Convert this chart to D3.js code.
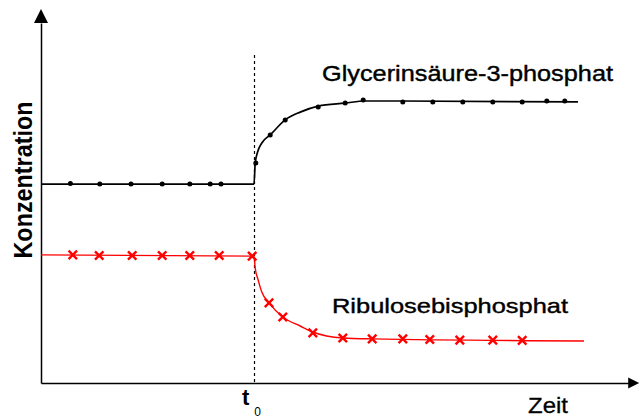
<!DOCTYPE html>
<html>
<head>
<meta charset="utf-8">
<script src="https://cdn.jsdelivr.net/npm/d3@7"></script>
<style>
  html, body { margin: 0; padding: 0; background: #fff; }
  svg { display: block; }
  text { font-family: "Liberation Sans", Arial, sans-serif; }
</style>
</head>
<body>
<svg id="chart" width="640" height="418"></svg>
<script>
// ---- data (time in arbitrary units, concentration in arbitrary units) ----
const t0 = 35.5;
const gpaTime = [0, 35.5, 35.7, 36.1, 36.8, 38.2, 40.7, 43.2, 46.2, 50.7, 54.0, 60.0, 89.5];
const gpaConc = [66.3, 66.3, 73.3, 77.0, 80.0, 82.7, 87.7, 90.3, 92.3, 93.3, 94.0, 94.0, 93.7];
const gpaMarkTime = [4.9, 9.8, 15.0, 20.2, 24.8, 28.2, 30.0, 35.8, 38.2, 40.7, 46.2, 50.7, 53.7, 60.3, 65.3, 70.3, 75.3, 80.2, 84.3, 87.3];
const gpaMarkConc = [66.5, 66.3, 66.3, 66.3, 66.3, 66.3, 66.3, 73.3, 82.7, 87.7, 92.0, 93.3, 94.3, 93.7, 93.7, 93.7, 93.7, 93.7, 94.0, 94.0];

const rubTime = [0, 35.5, 35.7, 36.2, 36.8, 38.0, 40.3, 43.2, 45.3, 50.3, 55.3, 90.5];
const rubConc = [42.7, 42.3, 38.3, 34.3, 30.3, 26.7, 22.0, 19.0, 17.0, 15.0, 14.7, 14.0];
const rubMarkTime = [5.3, 9.7, 15.2, 20.2, 24.8, 29.7, 35.2, 38.0, 40.3, 45.3, 50.3, 55.2, 60.3, 64.8, 69.8, 75.3, 80.2];
const rubMarkConc = [42.7, 42.5, 42.5, 42.5, 42.5, 42.5, 42.3, 26.7, 22.0, 16.7, 15.0, 14.7, 14.7, 14.5, 14.3, 14.3, 14.2];

const labels = {
  gpa: "Glycerinsäure-3-phosphat",
  rub: "Ribulosebisphosphat",
  yAxis: "Konzentration",
  xAxis: "Zeit",
  t: "t",
  tSub: "0"
};

// ---- scales ----
const x = d3.scaleLinear().domain([0, 100]).range([41, 641]);
const y = d3.scaleLinear().domain([0, 100]).range([383, 83]);

const svg = d3.select("#chart");

// axes (no ticks)
const xAxisScale = d3.scaleLinear().domain([0, 98.2]).range([x(0), x(98.2)]);
const yAxisScale = d3.scaleLinear().domain([0, 120]).range([y(0), y(120)]);
svg.append("g")
  .attr("transform", `translate(0,${y(0)})`)
  .call(d3.axisBottom(xAxisScale).tickValues([]).tickSizeOuter(0))
  .select(".domain").attr("stroke", "#000").attr("stroke-width", 1.5);
svg.append("g")
  .attr("transform", `translate(${x(0)},0)`)
  .call(d3.axisLeft(yAxisScale).tickValues([]).tickSizeOuter(0))
  .select(".domain").attr("stroke", "#000").attr("stroke-width", 1.5);

// arrow heads
const yTip = y(124.7), xTip = x(99.7);
svg.append("path")
  .attr("d", `M${x(0)},${yTip} L${x(0) - 7},${yTip + 14} L${x(0) + 7},${yTip + 14} Z`)
  .attr("fill", "#000");
svg.append("path")
  .attr("d", `M${xTip},${y(0)} L${xTip - 11},${y(0) - 5.5} L${xTip - 11},${y(0) + 5.5} Z`)
  .attr("fill", "#000");

// dashed t0 line
svg.append("line")
  .attr("x1", x(t0) + 0.5).attr("x2", x(t0) + 0.5)
  .attr("y1", y(109.3)).attr("y2", y(0))
  .attr("stroke", "#000").attr("stroke-width", 1.2)
  .attr("stroke-dasharray", "3,3");

// lines
const line = d3.line().curve(d3.curveMonotoneX);
svg.append("path")
  .attr("d", line(gpaTime.map((t, i) => [x(t), y(gpaConc[i])])))
  .attr("fill", "none").attr("stroke", "#000").attr("stroke-width", 1.7);
svg.append("path")
  .attr("d", line(rubTime.map((t, i) => [x(t), y(rubConc[i])])))
  .attr("fill", "none").attr("stroke", "#ff0000").attr("stroke-width", 1.4);

// markers
svg.append("g").selectAll("circle")
  .data(gpaMarkTime.map((t, i) => [t, gpaMarkConc[i]]))
  .join("circle")
  .attr("cx", d => x(d[0])).attr("cy", d => y(d[1]))
  .attr("r", 2.5).attr("fill", "#000");

const xSym = d3.symbol().type(d3.symbolX).size(48);
svg.append("g").selectAll("path")
  .data(rubMarkTime.map((t, i) => [t, rubMarkConc[i]]))
  .join("path")
  .attr("transform", d => `translate(${x(d[0])},${y(d[1])})`)
  .attr("d", xSym)
  .attr("fill", "none").attr("stroke", "#ff0000").attr("stroke-width", 2.4);

// labels
svg.append("text")
  .attr("x", 322).attr("y", 81)
  .attr("font-size", 22)
  .attr("textLength", 291).attr("lengthAdjust", "spacingAndGlyphs")
  .attr("fill", "#000").attr("stroke", "#000").attr("stroke-width", 0.4)
  .text(labels.gpa);

svg.append("text")
  .attr("x", 332).attr("y", 313)
  .attr("font-size", 21)
  .attr("textLength", 236).attr("lengthAdjust", "spacingAndGlyphs")
  .attr("fill", "#000").attr("stroke", "#000").attr("stroke-width", 0.4)
  .text(labels.rub);

svg.append("text")
  .attr("transform", "translate(32,180) rotate(-90)")
  .attr("text-anchor", "middle")
  .attr("font-size", 25).attr("font-weight", "bold")
  .attr("textLength", 157).attr("lengthAdjust", "spacingAndGlyphs")
  .attr("fill", "#000")
  .text(labels.yAxis);

svg.append("text")
  .attr("x", 528).attr("y", 413)
  .attr("font-size", 22)
  .attr("textLength", 40).attr("lengthAdjust", "spacingAndGlyphs")
  .attr("fill", "#000").attr("stroke", "#000").attr("stroke-width", 0.3)
  .text(labels.xAxis);

const tLab = svg.append("text")
  .attr("x", x(t0) - 12).attr("y", 405)
  .attr("fill", "#000");
tLab.append("tspan").attr("font-size", 22).attr("font-weight", "bold").text(labels.t);
tLab.append("tspan").attr("font-size", 12).attr("dx", 5).attr("dy", 11).text(labels.tSub);
</script>
</body>
</html>
